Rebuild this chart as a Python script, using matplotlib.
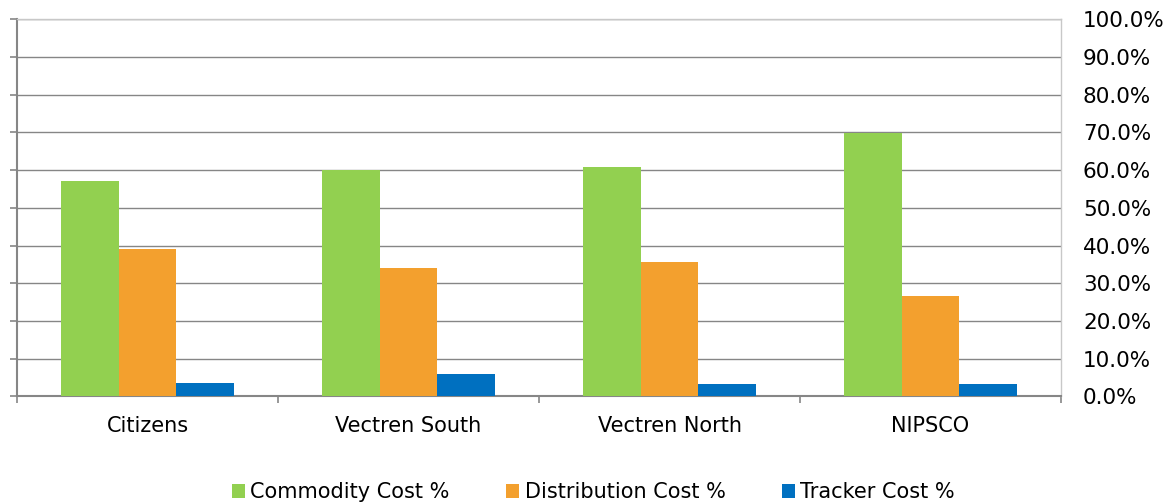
import matplotlib
matplotlib.use("Agg")
import matplotlib.pyplot as plt
import numpy as np
from matplotlib.ticker import FuncFormatter, FixedLocator

categories = ["Citizens", "Vectren South", "Vectren North", "NIPSCO"]
commodity = [57.2, 60.0, 60.8, 69.8]
distribution = [39.0, 34.0, 35.6, 26.6]
tracker = [3.4, 5.8, 3.2, 3.3]
series_names = ["Commodity Cost %", "Distribution Cost %", "Tracker Cost %"]
colors = ["#92D050", "#F3A02E", "#0070C0"]

plt.rcParams['font.family'] = ['DejaVu Sans']

W, H = 1173, 503
fig = plt.figure(figsize=(W / 100, H / 100), dpi=100)
ax = fig.add_axes([17 / W, 1 - 396.3 / H, (1061 - 17) / W, (396.3 - 19.3) / H])

x = np.arange(len(categories))
bw = 0.2222
series = [commodity, distribution, tracker]
for i, (vals, name, c) in enumerate(zip(series, series_names, colors)):
    ax.bar(x + (i - 1) * bw, vals, width=bw, color=c, label=name, zorder=3,
           edgecolor='none')

ax.set_xlim(-0.5, len(categories) - 0.5)
ax.set_ylim(0, 100)
ax.set_yticks(np.arange(0, 101, 10))
ax.grid(axis='y', color='#868686', linewidth=1.0, zorder=0)
ax.set_axisbelow(True)

# category labels
ax.set_xticks(x)
ax.set_xticklabels(categories, fontsize=15)
ax.tick_params(axis='x', which='major', length=0, pad=14)
ax.xaxis.set_minor_locator(FixedLocator(np.arange(-0.5, len(categories), 1.0)))
ax.tick_params(axis='x', which='minor', length=5, width=1.2, color='#868686', direction='out')

# y axis: ticks on left (no labels), labels on right
ax.tick_params(axis='y', which='major', left=True, right=False, labelleft=False,
               labelright=True, length=5, width=1.2, color='#868686',
               labelsize=15.5, pad=10.8)
ax.yaxis.set_major_formatter(FuncFormatter(lambda v, p: f"{v:.1f}%"))
for lbl in ax.get_yticklabels():
    lbl.set_horizontalalignment('left')

ax.spines['left'].set_color('#868686')
ax.spines['left'].set_linewidth(1.5)
ax.spines['bottom'].set_color('#868686')
ax.spines['bottom'].set_linewidth(1.5)
ax.spines['top'].set_color('#C8C8C8')
ax.spines['top'].set_linewidth(1.0)
ax.spines['right'].set_color('#C8C8C8')
ax.spines['right'].set_linewidth(1.0)

fig.legend(loc='center left', bbox_to_anchor=(231.7 / W, 1 - 492.5 / H), ncol=3,
           frameon=False, fontsize=15, handlelength=0.625, handleheight=0.625,
           handletextpad=0.27, columnspacing=2.7, borderaxespad=0, borderpad=0)

fig.savefig("out.png", dpi=100)
